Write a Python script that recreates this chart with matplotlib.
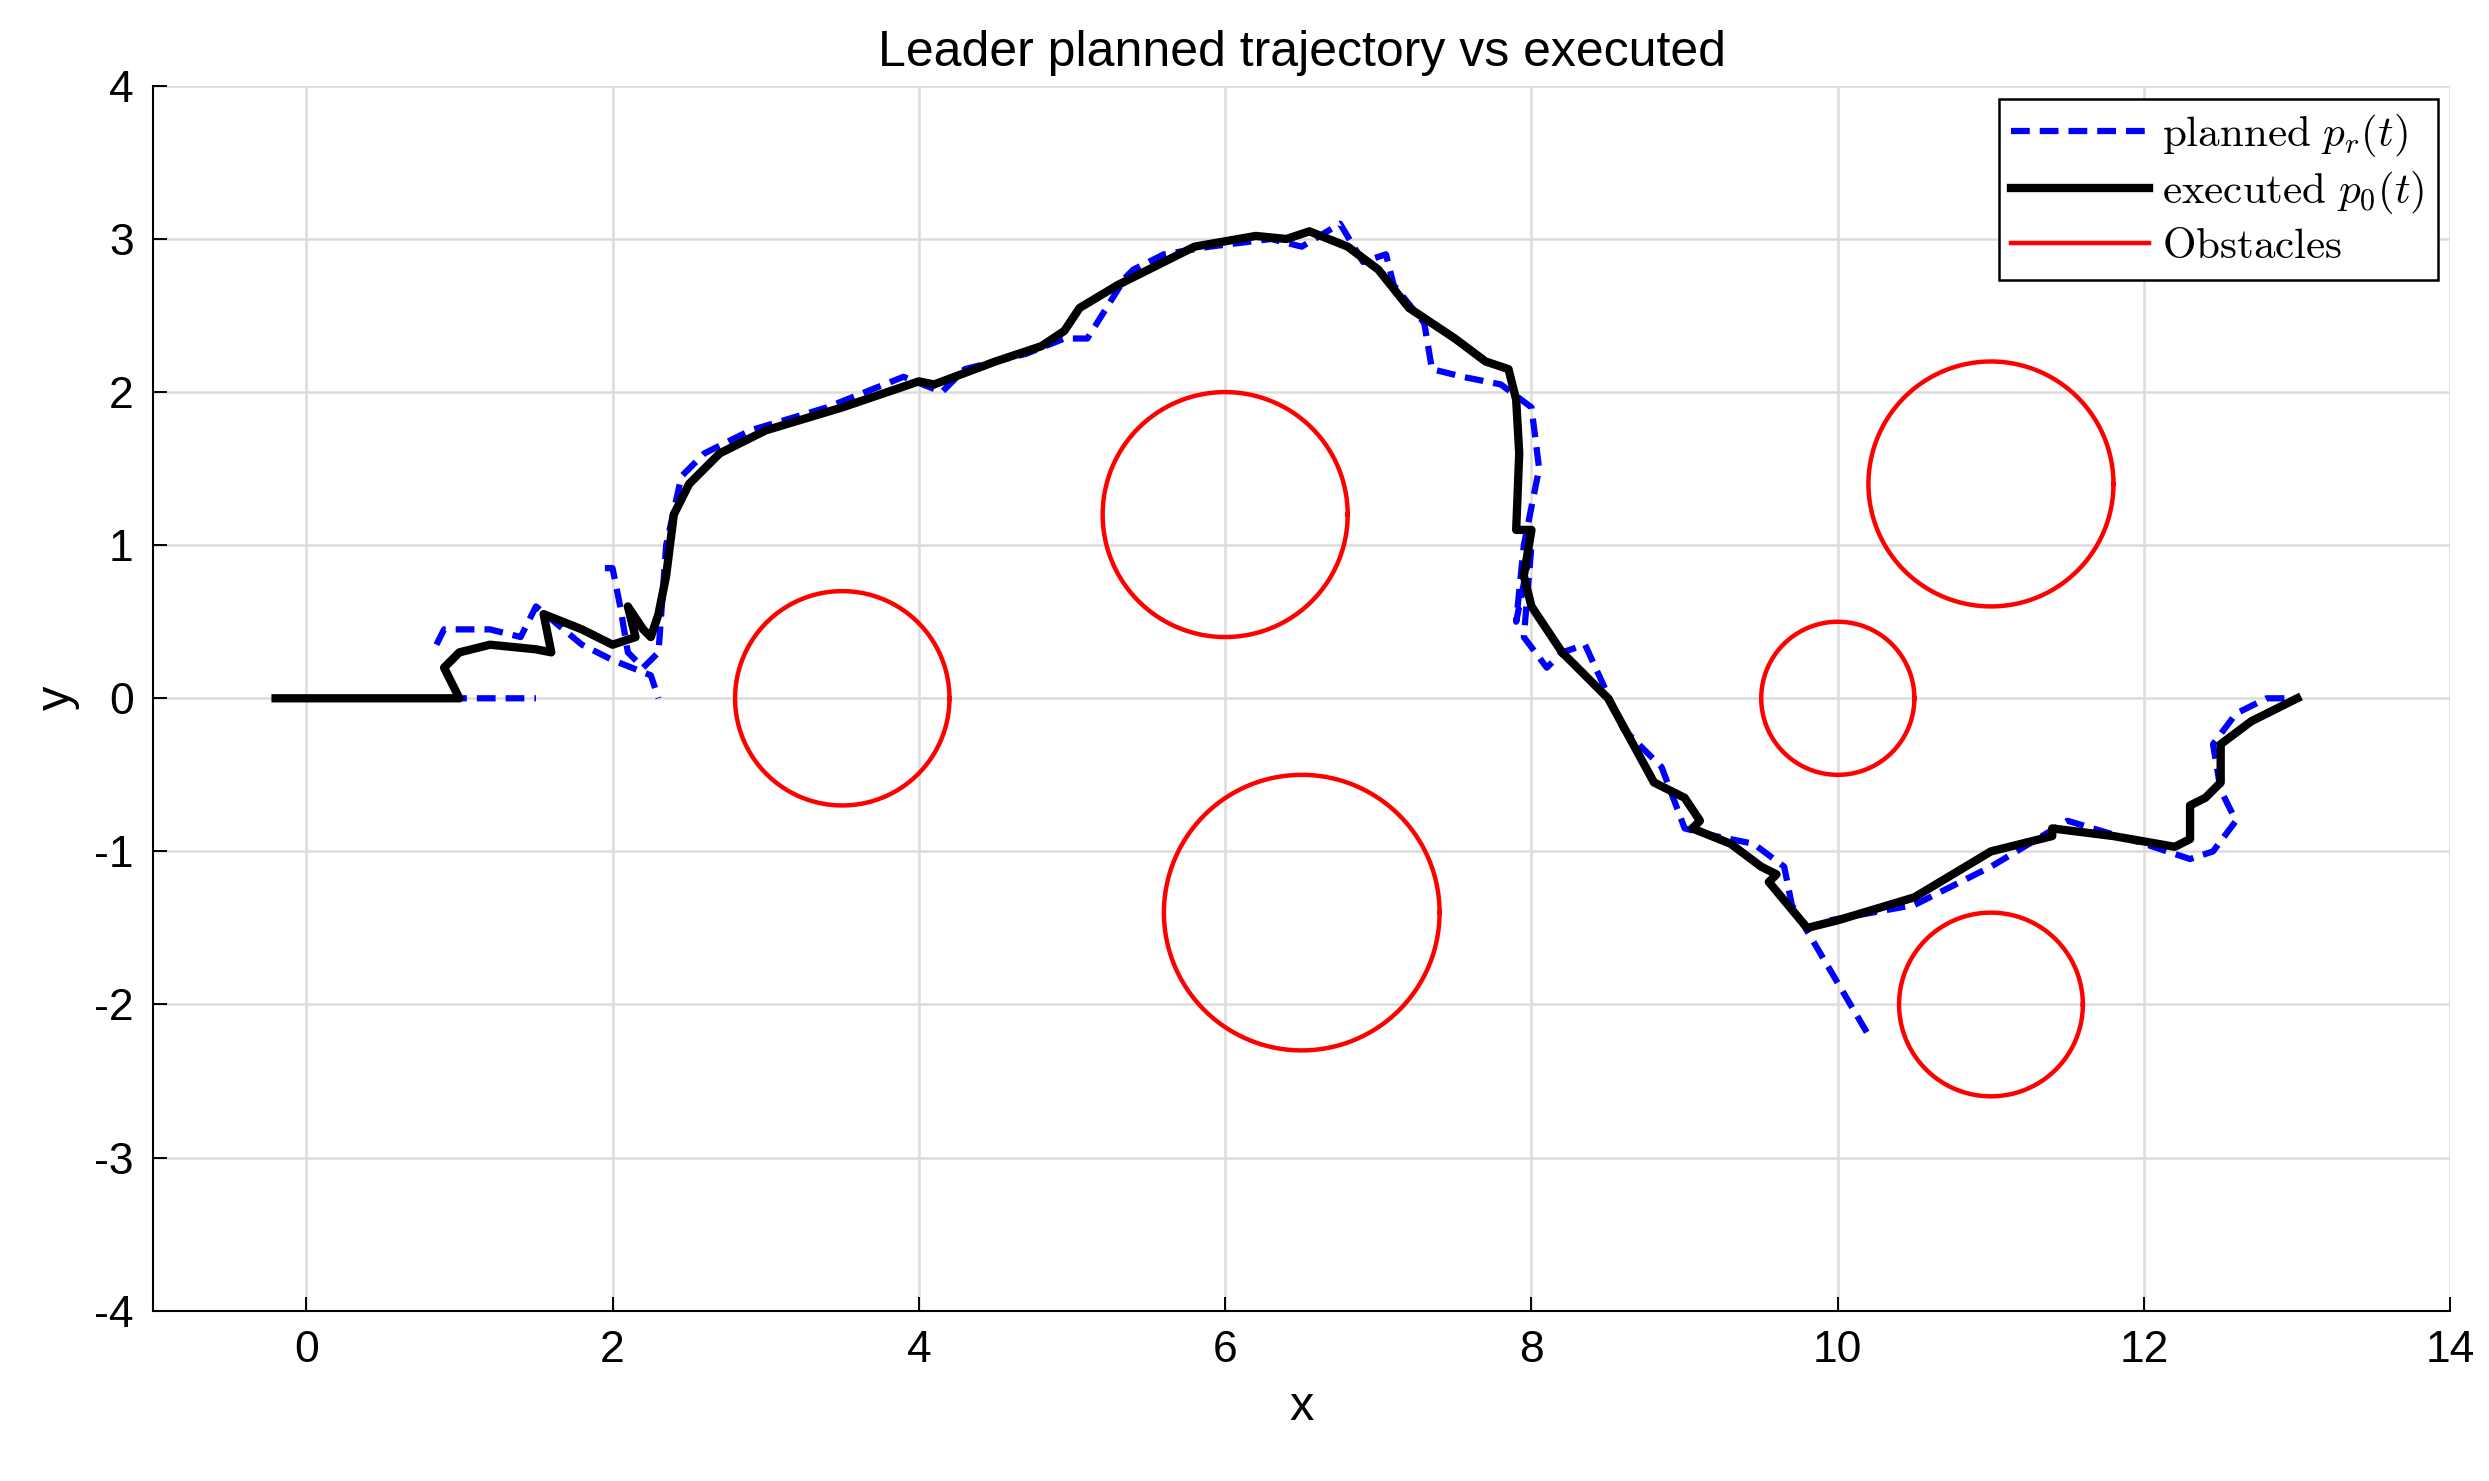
import numpy as np
import matplotlib.pyplot as plt

plt.rcParams['mathtext.fontset'] = 'cm'
plt.rcParams['font.family'] = ['Liberation Sans', 'DejaVu Sans']
plt.rcParams['axes.unicode_minus'] = False

# executed trajectory p0(t)
exec_x = [-0.2, 1.0, 0.9, 1.0, 1.2, 1.5, 1.6, 1.55, 1.8, 2.0, 2.15, 2.1, 2.2, 2.25, 2.3, 2.35, 2.4,
          2.5, 2.7, 3.0, 3.5, 4.0, 4.1, 4.5, 4.8, 4.95, 5.05, 5.3, 5.6, 5.8, 6.2, 6.4, 6.55, 6.8,
          7.0, 7.2, 7.5, 7.7, 7.85, 7.9, 7.92, 7.9, 8.0, 7.95, 8.0, 8.2, 8.5, 8.8, 9.0, 9.1, 9.05,
          9.3, 9.5, 9.6, 9.55, 9.8, 10.0, 10.5, 11.0, 11.4, 11.4, 11.8, 12.2, 12.3, 12.3, 12.4,
          12.5, 12.5, 12.7, 13.0]
exec_y = [0.0, 0.0, 0.2, 0.3, 0.35, 0.32, 0.3, 0.55, 0.45, 0.35, 0.4, 0.6, 0.45, 0.4, 0.55, 0.8, 1.2,
          1.4, 1.6, 1.75, 1.9, 2.07, 2.05, 2.2, 2.3, 2.4, 2.55, 2.7, 2.85, 2.95, 3.02, 3.0, 3.05, 2.95,
          2.8, 2.55, 2.35, 2.2, 2.15, 1.95, 1.6, 1.1, 1.1, 0.8, 0.6, 0.3, 0.0, -0.55, -0.65, -0.8, -0.85,
          -0.95, -1.1, -1.15, -1.2, -1.5, -1.45, -1.3, -1.0, -0.9, -0.85, -0.9, -0.97, -0.92, -0.7, -0.65,
          -0.55, -0.3, -0.15, 0.0]

# planned trajectory pr(t), NaN separates pieces
plan_x = [-0.2, 1.5, np.nan,
          0.85, 0.9, 1.2, 1.4, 1.5, 1.8, 2.0, 2.25, 2.3, np.nan,
          1.95, 2.0, 2.05, 2.1, 2.2, 2.3, 2.35, 2.45, 2.6, 2.9, 3.4, 3.9, 4.15, 4.3, 4.7, 4.95, 5.1,
          5.35, 5.4, 5.6, 5.9, 6.3, 6.5, 6.75, 6.9, 7.05, 7.1, 7.3, 7.35, 7.55, 7.8, 8.0, 8.05, 7.95,
          7.9, 8.0, 7.95, 8.1, 8.2, 8.35, 8.6, 8.85, 9.0, 9.2, 9.45, 9.65, 9.7, 10.2, np.nan,
          9.95, 10.5, 11.0, 11.5, 12.0, 12.3, 12.45, 12.6, 12.5, 12.45, 12.6, 12.8, 13.0]
plan_y = [0.0, 0.0, np.nan,
          0.35, 0.45, 0.45, 0.4, 0.6, 0.35, 0.25, 0.15, 0.0, np.nan,
          0.85, 0.85, 0.6, 0.3, 0.2, 0.3, 1.0, 1.45, 1.6, 1.75, 1.9, 2.1, 2.0, 2.15, 2.25, 2.35, 2.35,
          2.75, 2.8, 2.9, 2.95, 3.0, 2.95, 3.1, 2.85, 2.9, 2.7, 2.45, 2.15, 2.1, 2.05, 1.9, 1.5, 1.0,
          0.5, 1.0, 0.4, 0.2, 0.3, 0.35, -0.2, -0.45, -0.85, -0.9, -0.95, -1.1, -1.35, -2.2, np.nan,
          -1.45, -1.35, -1.1, -0.8, -0.95, -1.05, -1.0, -0.8, -0.6, -0.3, -0.1, 0.0, 0.0]

# obstacles: centre x, centre y, radius
obs_x = [3.5, 6.0, 6.5, 10.0, 11.0, 11.0]
obs_y = [0.0, 1.2, -1.4, 0.0, 1.4, -2.0]
obs_r = [0.7, 0.8, 0.9, 0.5, 0.8, 0.6]

fig = plt.figure(figsize=(24.89, 14.81), dpi=100)
ax = fig.add_axes([0.0615, 0.115, 0.923, 0.827])

ax.plot(plan_x, plan_y, color='blue', ls='--', lw=4.5, dashes=(3, 1.6),
        label=r'$\mathrm{planned}\ p_r(t)$', zorder=3)
ax.plot(exec_x, exec_y, color='black', lw=6, label=r'$\mathrm{executed}\ p_0(t)$', zorder=4)
th = np.linspace(0, 2 * np.pi, 300)
for i, (cx, cy, r) in enumerate(zip(obs_x, obs_y, obs_r)):
    ax.plot(cx + r * np.cos(th), cy + r * np.sin(th), color='red', lw=3.2,
            label=r'$\mathrm{Obstacles}$' if i == 0 else None, zorder=2)

ax.set_xlim(-1, 14)
ax.set_ylim(-4, 4)
ax.set_xticks(range(0, 15, 2))
ax.set_yticks(range(-4, 5))
ax.grid(True, color='#dcdcdc', lw=1.8)
ax.tick_params(labelsize=32, direction='in', length=10, width=1.4, pad=14)
ax.spines['top'].set_visible(False)
ax.spines['right'].set_visible(False)
for s in ax.spines.values():
    s.set_linewidth(1.5)
ax.set_xlabel('x', fontsize=35, labelpad=10)
ax.set_ylabel('y', fontsize=35, labelpad=10)
ax.set_title('Leader planned trajectory vs executed', fontsize=36, pad=14)
leg = ax.legend(loc='upper right', fontsize=31, fancybox=False, framealpha=1,
                edgecolor='black', handlelength=3.2, borderaxespad=0.3,
                labelspacing=0.25, handletextpad=0.3, borderpad=0.3)
leg.get_frame().set_linewidth(1.8)

fig.savefig('out.png', dpi=100)
